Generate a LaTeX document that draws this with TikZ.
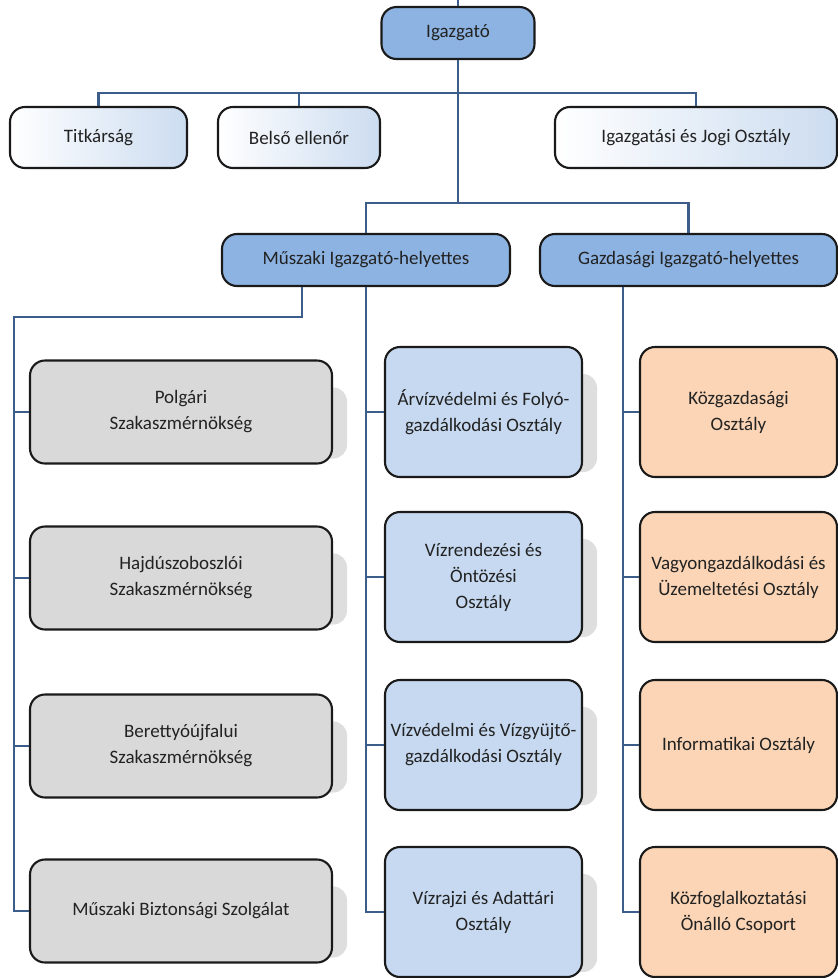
\documentclass[tikz,border=0pt]{standalone}
\usepackage{fontspec}
\setmainfont{Carlito}
\usetikzlibrary{backgrounds}
\definecolor{edge}{HTML}{1A1A1A}
\definecolor{wire}{HTML}{3C5C8A}
\definecolor{ink}{HTML}{222222}
\definecolor{boss}{HTML}{8DB3E2}
\definecolor{paleblue}{HTML}{CCDCF0}
\definecolor{greybox}{HTML}{D9D9D9}
\definecolor{bluebox}{HTML}{C6D9F0}
\definecolor{peachbox}{HTML}{FBD5B5}

\begin{document}
\begin{tikzpicture}[x=1pt, y=-1pt,
    box/.style={draw=edge, line width=2.1pt, rounded corners=15pt, align=center,
      text=ink, font=\fontsize{19}{26}\selectfont, inner sep=2pt},
    lead/.style={box, fill=boss, minimum height=52pt},
    staff/.style={box, left color=white, right color=paleblue, minimum height=61pt},
    unit/.style={box, minimum height=130pt, minimum width=197pt},
    shade/.style={fill=black!13, rounded corners=14pt},
    link/.style={draw=wire, line width=2.2pt}]
    \useasboundingbox (0,0) rectangle (838,978);
    \def\xl{181} % left column
    \def\xm{483.5} % middle column
    \def\xr{738.5} % right column

    % leadership
    \node[lead, minimum width=153pt] (ig) at (458,33) {Igazgató};
    \node[staff, minimum width=177pt] (titk) at (98.5,137.5) {Titkárság};
    \node[staff, minimum width=162pt] (belso) at (299,137.5) {Belső ellenőr};
    \node[staff, minimum width=282pt] (jogi) at (696,137.5) {Igazgatási és Jogi Osztály};
    \node[lead, minimum width=288pt] (musz) at (366,260) {Műszaki Igazgató-helyettes};
    \node[lead, minimum width=297pt] (gazd) at (688.5,260) {Gazdasági Igazgató-helyettes};

    % columns
    \node[unit, fill=greybox, minimum width=302pt, minimum height=103pt] (p1) at (\xl,412) {Polgári\\Szakaszmérnökség};
    \node[unit, fill=greybox, minimum width=302pt, minimum height=103pt] (p2) at (\xl,578) {Hajdúszoboszlói\\Szakaszmérnökség};
    \node[unit, fill=greybox, minimum width=302pt, minimum height=103pt] (p3) at (\xl,746) {Berettyóújfalui\\Szakaszmérnökség};
    \node[unit, fill=greybox, minimum width=302pt, minimum height=103pt] (p4) at (\xl,911) {Műszaki Biztonsági Szolgálat};

    \node[unit, fill=bluebox] (m1) at (\xm,412) {Árvízvédelmi és Folyó-\\gazdálkodási Osztály};
    \node[unit, fill=bluebox] (m2) at (\xm,577) {Vízrendezési és\\Öntözési\\Osztály};
    \node[unit, fill=bluebox] (m3) at (\xm,745) {Vízvédelmi és Vízgyüjtő-\\gazdálkodási Osztály};
    \node[unit, fill=bluebox] (m4) at (\xm,912) {Vízrajzi és Adattári\\Osztály};

    \node[unit, fill=peachbox] (g1) at (\xr,412) {Közgazdasági\\Osztály};
    \node[unit, fill=peachbox] (g2) at (\xr,577) {Vagyongazdálkodási és\\Üzemeltetési Osztály};
    \node[unit, fill=peachbox] (g3) at (\xr,745) {Informatikai Osztály};
    \node[unit, fill=peachbox] (g4) at (\xr,912) {Közfoglalkoztatási\\Önálló Csoport};

    % shadows behind the column boxes
    \begin{scope}[on background layer]
      \foreach \n in {p1,p2,p3,p4,m1,m2,m3,m4}
        \fill[shade] ([xshift=-30pt, yshift=-28pt]\n.north east) rectangle ([xshift=14pt, yshift=6pt]\n.south east);
    \end{scope}

    % connectors
    \coordinate (top) at (458,0);
    \coordinate (bus1) at (458,93);
    \coordinate (bus2) at (458,203);
    \coordinate (lbus) at (14,317);
    \draw[link] (top) -- (ig.north);
    \draw[link] (ig.south) -- (bus2);
    \draw[link] (titk.north) |- (bus1) -| (jogi.north);
    \draw[link] (belso.north) -- (belso.north |- bus1);
    \draw[link] (musz.north) |- (bus2) -| (gazd.north);
    \draw[link] ([xshift=-64pt]musz.south) |- (lbus) |- (p4.west);
    \draw[link] (musz.south) |- (m4.west);
    \draw[link] ([xshift=-65.5pt]gazd.south) |- (g4.west);
    \foreach \i in {1,2,3} {
      \draw[link] (lbus |- p\i.west) -- (p\i.west);
      \draw[link] (musz.south |- m\i.west) -- (m\i.west);
      \draw[link] ([xshift=-65.5pt]gazd.south |- g\i.west) -- (g\i.west);
    }
\end{tikzpicture}
\end{document}
